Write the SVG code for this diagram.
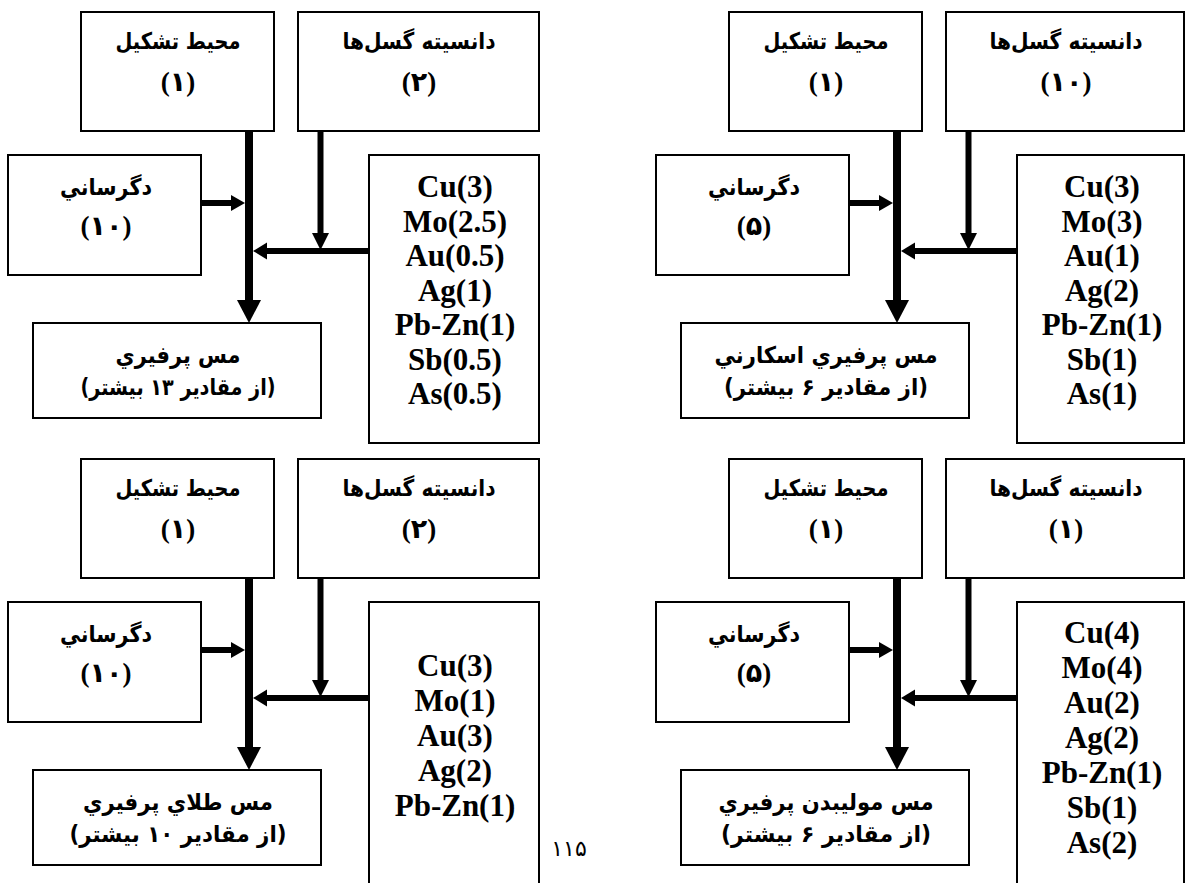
<svg xmlns="http://www.w3.org/2000/svg" width="1186" height="883" viewBox="0 0 1186 883">
<style>
.box{fill:#fff;stroke:#000;stroke-width:2}
.fa{font-family:'DejaVu Sans',sans-serif;font-weight:bold;font-size:23px;fill:#000}
.num{font-family:'Liberation Serif','DejaVu Sans',serif;font-weight:bold;font-size:27px;fill:#000}
.el{font-family:'Liberation Serif',serif;font-weight:bold;font-size:31px;fill:#000}
.thick{stroke:#000;stroke-width:8;fill:none}
.thin{stroke:#000;stroke-width:6;fill:none}
.head{fill:#000}
.pg{font-family:'DejaVu Sans',sans-serif;font-size:22px;fill:#000}
</style>
<rect width="1186" height="883" fill="#fff"/>

<!-- Panel 1: top-left -->
<g id="p1">
  <g id="p1-setting">
    <rect class="box" x="81" y="12" width="193" height="119"/>
    <text class="fa" x="178" y="49" text-anchor="middle" direction="rtl" textLength="125" lengthAdjust="spacingAndGlyphs">محیط تشکیل</text>
    <text class="num" x="178" y="91" text-anchor="middle">(۱)</text>
  </g>
  <g id="p1-faults">
    <rect class="box" x="298" y="12" width="241" height="119"/>
    <text class="fa" x="419" y="49" text-anchor="middle" direction="rtl" textLength="153" lengthAdjust="spacingAndGlyphs">دانسیته گسل‌ها</text>
    <text class="num" x="419" y="91" text-anchor="middle">(۲)</text>
  </g>
  <g id="p1-alteration">
    <rect class="box" x="8" y="155" width="193" height="120"/>
    <text class="fa" x="106" y="195" text-anchor="middle" direction="rtl" textLength="92" lengthAdjust="spacingAndGlyphs">دگرساني</text>
    <text class="num" x="106" y="235" text-anchor="middle">(۱۰)</text>
  </g>
  <g id="p1-elements">
    <rect class="box" x="369" y="155" width="170" height="288"/>
    <text class="el" x="455" y="197" text-anchor="middle">Cu(3)</text>
    <text class="el" x="455" y="231.5" text-anchor="middle">Mo(2.5)</text>
    <text class="el" x="455" y="266" text-anchor="middle">Au(0.5)</text>
    <text class="el" x="455" y="300.5" text-anchor="middle">Ag(1)</text>
    <text class="el" x="455" y="335" text-anchor="middle">Pb-Zn(1)</text>
    <text class="el" x="455" y="369.5" text-anchor="middle">Sb(0.5)</text>
    <text class="el" x="455" y="404" text-anchor="middle">As(0.5)</text>
  </g>
  <g id="p1-result">
    <rect class="box" x="33" y="323" width="288" height="95"/>
    <text class="fa" x="178" y="363" text-anchor="middle" direction="rtl" textLength="125" lengthAdjust="spacingAndGlyphs">مس پرفيري</text>
    <text class="fa" x="178" y="395" text-anchor="middle" direction="rtl" textLength="195" lengthAdjust="spacingAndGlyphs">(از مقادير ۱۳ بيشتر)</text>
  </g>
  <g id="p1-connectors">
    <line class="thick" x1="249" y1="131" x2="249" y2="301"/>
    <polygon class="head" points="237,300 261,300 249,323"/>
    <line class="thin" x1="320.5" y1="131" x2="320.5" y2="234"/>
    <polygon class="head" points="312,233 329,233 320.5,250"/>
    <line class="thin" x1="369" y1="251" x2="266" y2="251"/>
    <polygon class="head" points="267,242.5 267,259.5 253,251"/>
    <line class="thin" x1="201" y1="203" x2="232" y2="203"/>
    <polygon class="head" points="231,195 231,211 245,203"/>
  </g>
</g>

<!-- Panel 2: top-right -->
<g id="p2">
  <g id="p2-setting">
    <rect class="box" x="729" y="12" width="193" height="119"/>
    <text class="fa" x="826" y="49" text-anchor="middle" direction="rtl" textLength="125" lengthAdjust="spacingAndGlyphs">محیط تشکیل</text>
    <text class="num" x="826" y="91" text-anchor="middle">(۱)</text>
  </g>
  <g id="p2-faults">
    <rect class="box" x="946" y="12" width="238" height="119"/>
    <text class="fa" x="1066" y="49" text-anchor="middle" direction="rtl" textLength="153" lengthAdjust="spacingAndGlyphs">دانسیته گسل‌ها</text>
    <text class="num" x="1066" y="91" text-anchor="middle">(۱۰)</text>
  </g>
  <g id="p2-alteration">
    <rect class="box" x="656" y="155" width="193" height="120"/>
    <text class="fa" x="754" y="195" text-anchor="middle" direction="rtl" textLength="92" lengthAdjust="spacingAndGlyphs">دگرساني</text>
    <text class="num" x="754" y="235" text-anchor="middle">(۵)</text>
  </g>
  <g id="p2-elements">
    <rect class="box" x="1017" y="155" width="167" height="288"/>
    <text class="el" x="1102" y="197" text-anchor="middle">Cu(3)</text>
    <text class="el" x="1102" y="231.5" text-anchor="middle">Mo(3)</text>
    <text class="el" x="1102" y="266" text-anchor="middle">Au(1)</text>
    <text class="el" x="1102" y="300.5" text-anchor="middle">Ag(2)</text>
    <text class="el" x="1102" y="335" text-anchor="middle">Pb-Zn(1)</text>
    <text class="el" x="1102" y="369.5" text-anchor="middle">Sb(1)</text>
    <text class="el" x="1102" y="404" text-anchor="middle">As(1)</text>
  </g>
  <g id="p2-result">
    <rect class="box" x="681" y="323" width="288" height="95"/>
    <text class="fa" x="826" y="363" text-anchor="middle" direction="rtl" textLength="223" lengthAdjust="spacingAndGlyphs">مس پرفيري اسكارني</text>
    <text class="fa" x="826" y="395" text-anchor="middle" direction="rtl" textLength="204" lengthAdjust="spacingAndGlyphs">(از مقادير ۶ بيشتر)</text>
  </g>
  <g id="p2-connectors">
    <line class="thick" x1="897" y1="131" x2="897" y2="301"/>
    <polygon class="head" points="885,300 909,300 897,323"/>
    <line class="thin" x1="968.5" y1="131" x2="968.5" y2="234"/>
    <polygon class="head" points="960,233 977,233 968.5,250"/>
    <line class="thin" x1="1017" y1="251" x2="914" y2="251"/>
    <polygon class="head" points="915,242.5 915,259.5 901,251"/>
    <line class="thin" x1="849" y1="203" x2="880" y2="203"/>
    <polygon class="head" points="879,195 879,211 893,203"/>
  </g>
</g>

<!-- Panel 3: bottom-left -->
<g id="p3">
  <g id="p3-setting">
    <rect class="box" x="81" y="459" width="193" height="119"/>
    <text class="fa" x="178" y="496" text-anchor="middle" direction="rtl" textLength="125" lengthAdjust="spacingAndGlyphs">محیط تشکیل</text>
    <text class="num" x="178" y="538" text-anchor="middle">(۱)</text>
  </g>
  <g id="p3-faults">
    <rect class="box" x="298" y="459" width="241" height="119"/>
    <text class="fa" x="419" y="496" text-anchor="middle" direction="rtl" textLength="153" lengthAdjust="spacingAndGlyphs">دانسیته گسل‌ها</text>
    <text class="num" x="419" y="538" text-anchor="middle">(۲)</text>
  </g>
  <g id="p3-alteration">
    <rect class="box" x="8" y="602" width="193" height="120"/>
    <text class="fa" x="106" y="642" text-anchor="middle" direction="rtl" textLength="92" lengthAdjust="spacingAndGlyphs">دگرساني</text>
    <text class="num" x="106" y="682" text-anchor="middle">(۱۰)</text>
  </g>
  <g id="p3-elements">
    <rect class="box" x="369" y="602" width="170" height="290"/>
    <text class="el" x="455" y="676" text-anchor="middle">Cu(3)</text>
    <text class="el" x="455" y="711" text-anchor="middle">Mo(1)</text>
    <text class="el" x="455" y="746" text-anchor="middle">Au(3)</text>
    <text class="el" x="455" y="781" text-anchor="middle">Ag(2)</text>
    <text class="el" x="455" y="816" text-anchor="middle">Pb-Zn(1)</text>
  </g>
  <g id="p3-result">
    <rect class="box" x="33" y="770" width="288" height="95"/>
    <text class="fa" x="178" y="810" text-anchor="middle" direction="rtl" textLength="190" lengthAdjust="spacingAndGlyphs">مس طلاي پرفيري</text>
    <text class="fa" x="178" y="842" text-anchor="middle" direction="rtl" textLength="217" lengthAdjust="spacingAndGlyphs">(از مقادير ۱۰ بيشتر)</text>
  </g>
  <g id="p3-connectors">
    <line class="thick" x1="249" y1="578" x2="249" y2="748"/>
    <polygon class="head" points="237,747 261,747 249,770"/>
    <line class="thin" x1="320.5" y1="578" x2="320.5" y2="681"/>
    <polygon class="head" points="312,680 329,680 320.5,697"/>
    <line class="thin" x1="369" y1="698" x2="266" y2="698"/>
    <polygon class="head" points="267,689.5 267,706.5 253,698"/>
    <line class="thin" x1="201" y1="650" x2="232" y2="650"/>
    <polygon class="head" points="231,642 231,658 245,650"/>
  </g>
</g>

<!-- Panel 4: bottom-right -->
<g id="p4">
  <g id="p4-setting">
    <rect class="box" x="729" y="459" width="193" height="119"/>
    <text class="fa" x="826" y="496" text-anchor="middle" direction="rtl" textLength="125" lengthAdjust="spacingAndGlyphs">محیط تشکیل</text>
    <text class="num" x="826" y="538" text-anchor="middle">(۱)</text>
  </g>
  <g id="p4-faults">
    <rect class="box" x="946" y="459" width="238" height="119"/>
    <text class="fa" x="1066" y="496" text-anchor="middle" direction="rtl" textLength="153" lengthAdjust="spacingAndGlyphs">دانسیته گسل‌ها</text>
    <text class="num" x="1066" y="538" text-anchor="middle">(۱)</text>
  </g>
  <g id="p4-alteration">
    <rect class="box" x="656" y="602" width="193" height="120"/>
    <text class="fa" x="754" y="642" text-anchor="middle" direction="rtl" textLength="92" lengthAdjust="spacingAndGlyphs">دگرساني</text>
    <text class="num" x="754" y="682" text-anchor="middle">(۵)</text>
  </g>
  <g id="p4-elements">
    <rect class="box" x="1017" y="602" width="167" height="290"/>
    <text class="el" x="1102" y="643" text-anchor="middle">Cu(4)</text>
    <text class="el" x="1102" y="678" text-anchor="middle">Mo(4)</text>
    <text class="el" x="1102" y="713" text-anchor="middle">Au(2)</text>
    <text class="el" x="1102" y="748" text-anchor="middle">Ag(2)</text>
    <text class="el" x="1102" y="783" text-anchor="middle">Pb-Zn(1)</text>
    <text class="el" x="1102" y="818" text-anchor="middle">Sb(1)</text>
    <text class="el" x="1102" y="853" text-anchor="middle">As(2)</text>
  </g>
  <g id="p4-result">
    <rect class="box" x="681" y="770" width="288" height="95"/>
    <text class="fa" x="826" y="810" text-anchor="middle" direction="rtl" textLength="215" lengthAdjust="spacingAndGlyphs">مس موليبدن پرفيري</text>
    <text class="fa" x="826" y="842" text-anchor="middle" direction="rtl" textLength="210" lengthAdjust="spacingAndGlyphs">(از مقادير ۶ بيشتر)</text>
  </g>
  <g id="p4-connectors">
    <line class="thick" x1="897" y1="578" x2="897" y2="748"/>
    <polygon class="head" points="885,747 909,747 897,770"/>
    <line class="thin" x1="968.5" y1="578" x2="968.5" y2="681"/>
    <polygon class="head" points="960,680 977,680 968.5,697"/>
    <line class="thin" x1="1017" y1="698" x2="914" y2="698"/>
    <polygon class="head" points="915,689.5 915,706.5 901,698"/>
    <line class="thin" x1="849" y1="650" x2="880" y2="650"/>
    <polygon class="head" points="879,642 879,658 893,650"/>
  </g>
</g>

<text id="page-number" class="pg" x="569" y="856" text-anchor="middle">۱۱۵</text>
</svg>
